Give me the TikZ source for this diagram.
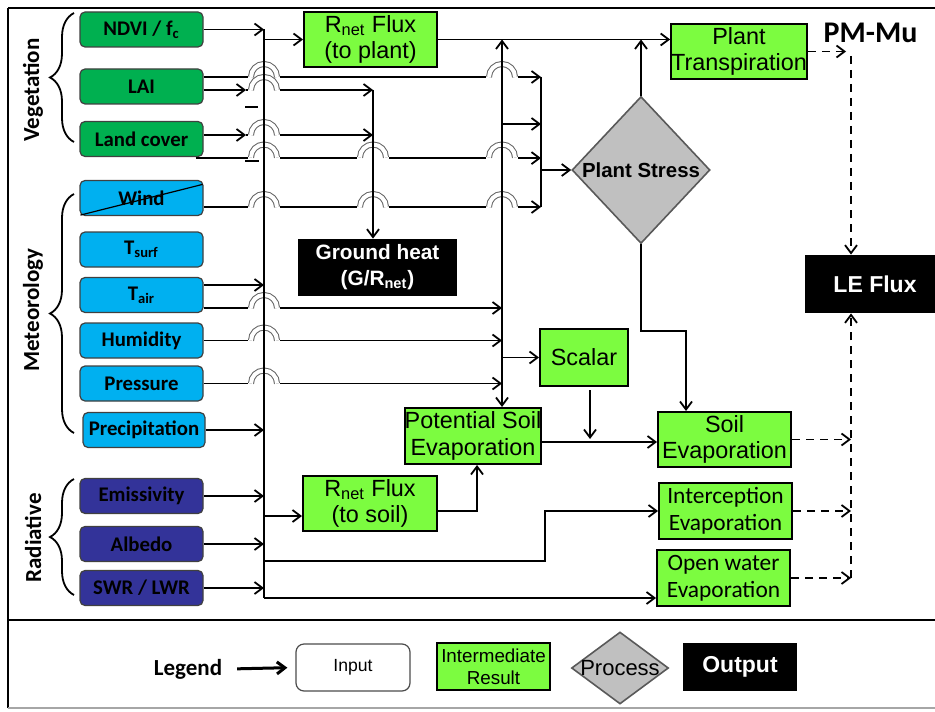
\documentclass[tikz,border=0pt]{standalone}
\usepackage{fontspec}
\setmainfont{Liberation Sans}
\newfontfamily\calibri{Carlito}
\usetikzlibrary{shapes.geometric, arrows.meta, positioning, calc, decorations.pathreplacing}
\definecolor{veggreen}{RGB}{0,176,80}
\definecolor{metblue}{RGB}{0,176,240}
\definecolor{radnavy}{RGB}{51,51,153}
\definecolor{resgreen}{RGB}{124,252,64}
\definecolor{procgray}{RGB}{192,192,192}
% line hop over a vertical bus
\newcommand{\hop}[2]{%
  \fill[white] (#1-16,#2-2.5) rectangle (#1+16,#2+2.5);
  \draw[hopline] (#1-13,#2) arc[start angle=180, end angle=0, radius=6.5pt];}

\begin{document}
\begin{tikzpicture}[x=0.5pt, y=-0.5pt,
    inbox/.style={draw=black!75, line width=0.6pt, rounded corners=2.5pt, fill=#1,
                  minimum width=61.5pt, minimum height=17.5pt, inner sep=0pt,
                  font=\calibri\bfseries\fontsize{10.4}{12}\selectfont},
    resbox/.style={draw=black, line width=1pt, fill=resgreen, inner sep=0pt,
                   align=center, font=\fontsize{11.7}{13.2}\selectfont},
    outbox/.style={fill=black, text=white, inner sep=0pt, align=center,
                   font=\bfseries\fontsize{10.4}{13}\selectfont},
    procbox/.style={diamond, draw=black!65, line width=0.8pt, fill=procgray, inner sep=0pt},
    grouplabel/.style={rotate=90, font=\calibri\bfseries\fontsize{11.5}{13}\selectfont},
    groupbrace/.style={decorate, decoration={brace, amplitude=12pt}, line width=0.9pt},
    link/.style={line width=0.9pt},
    flow/.style={link, -{Straight Barb[length=4pt, width=6pt]}},
    eflow/.style={flow, dash pattern=on 4pt off 3pt},
    hopline/.style={draw=black!60, line width=0.5pt, double=white, double distance=2pt}
]
    \useasboundingbox (0,0) rectangle (935,711);
    \clip (0,0) rectangle (935,711);

    % frame
    \draw[line width=1pt] (8,8) -- (960,8);
    \draw[line width=1pt] (8,708) -- (8,8);
    \draw[line width=1pt] (8,620) -- (960,620);
    \draw[line width=0.8pt, black!35] (8,708) -- (960,708);

    % groups
    \node[grouplabel] (veglabel) at (33,90) {Vegetation};
    \node[grouplabel] (metlabel) at (33,310) {Meteorology};
    \node[grouplabel] (radlabel) at (33,538) {Radiative};
    \draw[groupbrace] (74,142) -- (74,13);
    \draw[groupbrace] (74,433) -- (74,194);
    \draw[groupbrace] (74,595) -- (74,479);

    % inputs
    \node[inbox=veggreen] (ndvi) at (141.5,29.5) {NDVI / f\textsubscript{c}};
    \node[inbox=veggreen] (lai) at (141.5,86.5) {LAI};
    \node[inbox=veggreen] (lcover) at (141.5,139) {Land cover};
    \node[inbox=metblue] (wind) at (141.5,198) {Wind};
    \node[inbox=metblue] (tsurf) at (141.5,249.5) {T\textsubscript{surf}};
    \node[inbox=metblue] (tair) at (141.5,295) {T\textsubscript{air}};
    \node[inbox=metblue] (humid) at (141.5,340.5) {Humidity};
    \node[inbox=metblue] (press) at (141.5,383.5) {Pressure};
    \node[inbox=metblue, minimum width=61pt] (precip) at (144,430) {Precipitation};
    \node[inbox=radnavy] (emis) at (141.5,496) {Emissivity};
    \node[inbox=radnavy] (albedo) at (141.5,544) {Albedo};
    \node[inbox=radnavy] (swr) at (141.5,588) {SWR / LWR};
    \draw[line width=0.6pt] ($(wind.south west)+(1,-1)$) -- ($(wind.north east)+(-1,4.5)$);

    % intermediate results
    \node[resbox, minimum width=66.5pt, minimum height=27.5pt] (rnetp) at (370.5,39.5) {R\textsubscript{net} Flux\\(to plant)};
    \node[resbox, minimum width=67pt, minimum height=27.5pt] (ptrans) at (739,51.5) {Plant\\Transpiration};
    \node[resbox, minimum width=44pt, minimum height=28.5pt] (scalar) at (584,357.5) {Scalar};
    \node[resbox, minimum width=67pt, minimum height=28pt] (pse) at (473,436) {Potential Soil\\Evaporation};
    \node[resbox, minimum width=66.5pt, minimum height=27.5pt] (soil) at (724.5,439.5) {Soil\\Evaporation};
    \node[resbox, minimum width=66.5pt, minimum height=28pt, font=\calibri\fontsize{11.7}{13.5}\selectfont] (icpt) at (725.5,511) {Interception\\Evaporation};
    \node[resbox, minimum width=66.5pt, minimum height=28pt, font=\calibri\fontsize{11.7}{13.5}\selectfont] (openw) at (723.5,578) {Open water\\Evaporation};
    \node[resbox, minimum width=67pt, minimum height=27.5pt] (rnets) at (370,503.5) {R\textsubscript{net} Flux\\(to soil)};

    % process and outputs
    \node[procbox, minimum width=69pt, minimum height=73.5pt, font=\bfseries\fontsize{10.2}{12}\selectfont] (stress) at (641,170) {Plant Stress};
    \node[outbox, minimum width=79.5pt, minimum height=28.5pt] (gheat) at (377.5,267.5) {Ground heat\\(G/R\textsubscript{net})};
    \node[outbox, minimum width=70pt, minimum height=29pt, font=\bfseries\fontsize{11.5}{13}\selectfont] (leflux) at (875,284) {LE Flux};
    \node[font=\calibri\bfseries\fontsize{15}{18}\selectfont] (pmmu) at (870.5,33) {PM-Mu};

    % bus positions
    \coordinate (busA) at (264,0);
    \coordinate (busB) at (373,0);
    \coordinate (busC) at (502,0);
    \coordinate (coll) at (541,0);
    \coordinate (stopA) at (246,0);
    \coordinate (dashx) at (851,0);
    \coordinate (dashstop) at (846,0);
    \coordinate (dtop) at (851,56);

    % vegetation lines
    \draw[flow] (ndvi.east) -- (ndvi.east -| busA);
    \draw[flow] (busA |- rnetp.west) -- (rnetp.west);
    \coordinate (laiup) at ($(lai.east)+(0,-9.5)$);
    \coordinate (lailo) at ($(lai.east)+(0,3.5)$);
    \draw[flow] (laiup) -- (laiup -| coll);
    \draw[flow] (lailo) -- (lailo -| stopA);
    \draw[flow] (lailo -| stopA) -- (lailo -| busB);
    \coordinate (lcup) at ($(lcover.east)+(0,-4)$);
    \coordinate (lclo) at ($(lcover.south east)+(-8,1)$);
    \draw[flow] (lcup) -- (lcup -| stopA);
    \draw[flow] (lcup -| stopA) -- (lcup -| busB);
    \draw[flow] (lclo) -- (lclo -| coll);
    \draw[link] (245,107) -- (258,107);
    \draw[link] (245,161) -- (259,161);

    % meteorology lines
    \coordinate (windln) at ($(wind.east)+(0,9)$);
    \draw[flow] (windln) -- (windln -| coll);
    \coordinate (tairup) at ($(tair.east)+(0,-10)$);
    \coordinate (tairlo) at ($(tair.east)+(0,13)$);
    \draw[flow] (tairup) -- (tairup -| busA);
    \draw[flow] (tairlo) -- (tairlo -| busC);
    \draw[flow] (humid.east) -- (humid.east -| busC);
    \draw[flow] (press.east) -- (press.east -| busC);
    \draw[flow] (precip.east) -- (precip.east -| busA);

    % radiative lines
    \draw[flow] (emis.east) -- (emis.east -| busA);
    \draw[flow] (albedo.east) -- (albedo.east -| busA);
    \draw[flow] (swr.east) -- (swr.east -| busA);
    \coordinate (rsin) at ($(rnets.west)+(0,12.5)$);
    \draw[flow] (rsin -| busA) -- (rsin);
    \coordinate (iy) at (0,561);
    \coordinate (ix) at (545,0);
    \coordinate (owy) at (0,598);
    \draw[flow] (busA |- iy) -| (ix |- icpt.west) -- (icpt.west);
    \draw[flow] (busA |- owy) -- (owy -| openw.west);

    % hops
    \foreach \y in {77,90,135,157.5,207,308,340.5,383.5} {\hop{264}{\y}}
    \foreach \y in {157.5,207} {\hop{373}{\y}}
    \foreach \y in {77,157.5,207} {\hop{502}{\y}}

    % buses
    \draw[link] (busA |- ndvi.east) -- (busA |- owy);
    \draw[flow] (busB |- lailo) -- (busB |- gheat.north);
    \draw[flow] (busC |- scalar.west) -- (busC |- rnetp.east);
    \draw[flow] (busC |- scalar.west) -- (busC |- pse.north);
    \draw[flow] (busC |- scalar.west) -- (scalar.west);
    \coordinate (cy) at (0,124);
    \draw[flow] (busC |- cy) -- (coll |- cy);
    \draw[link] (coll |- laiup) -- (coll |- windln);
    \draw[flow] (coll |- stress.west) -- (stress.west);

    % plant side
    \draw[flow] (rnetp.east) -- (rnetp.east -| ptrans.west);
    \draw[flow] (stress.north) -- (stress.north |- rnetp.east);
    \coordinate (sbend) at (0,331);
    \draw[flow] (stress.south) -- (stress.south |- sbend) -| ($(soil.north)+(-38.5,0)$);

    % soil side
    \draw[flow] ($(rnets.east)+(0,7.5)$) -| ($(pse.south)+(4,0)$);
    \coordinate (pseout) at ($(pse.east)+(0,6)$);
    \draw[flow] (pseout) -- (pseout -| soil.west);
    \coordinate (scout) at ($(scalar.south)+(6,3)$);
    \draw[flow] (scout) -- ($(scout |- pseout)+(0,-3)$);

    % to LE flux
    \draw[eflow] (ptrans.east) -- (ptrans.east -| dashstop);
    \draw[eflow] (dtop) -- (dtop |- leflux.north);
    \draw[eflow] (soil.east) -- (soil.east -| dashx);
    \draw[eflow] (icpt.east) -- (icpt.east -| dashx);
    \draw[eflow] (openw.east) -- (openw.east -| dashx);
    \draw[eflow] (openw.east -| dashx) -- (dashx |- leflux.south);

    % legend
    \node[font=\calibri\bfseries\fontsize{11.5}{13}\selectfont] (legtext) at (188,669) {Legend};
    \node[draw=black!70, line width=0.6pt, rounded corners=4pt, fill=white, minimum width=57pt,
          minimum height=23.5pt, inner sep=0pt, font=\fontsize{8.8}{10}\selectfont] (legin) at (353,667.5) {Input};
    \node[resbox, minimum width=56.5pt, minimum height=23.5pt, font=\fontsize{9.4}{11}\selectfont] (legres) at (493.5,666.5) {Intermediate\\Result};
    \node[procbox, minimum width=48.5pt, minimum height=36pt] (legproc) at (620,668) {};
    \node[font=\fontsize{11}{12}\selectfont, inner sep=0pt] (legproctext) at (legproc.center) {Process};
    \node[outbox, minimum width=57pt, minimum height=24pt, font=\bfseries\fontsize{11.5}{13}\selectfont] (legout) at (740,667) {Output};
    \draw[flow, line width=1.5pt, shorten <=4pt, shorten >=4pt] (legtext.east) -- (legin.west);
\end{tikzpicture}
\end{document}
